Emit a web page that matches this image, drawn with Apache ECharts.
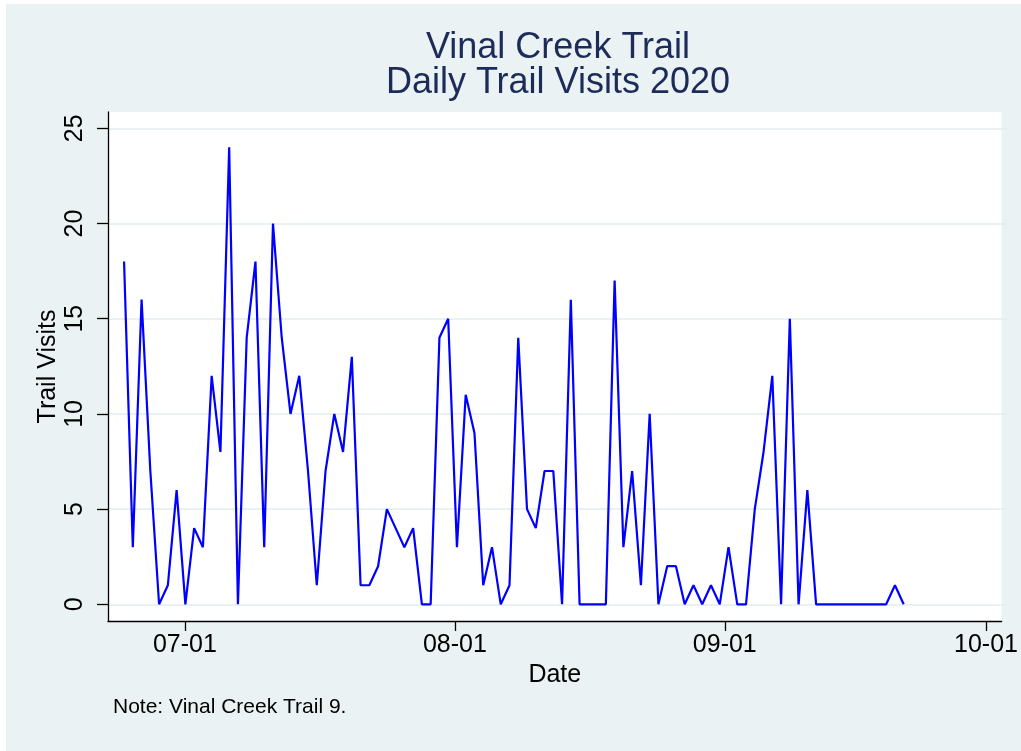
<!DOCTYPE html>
<html><head><meta charset="utf-8">
<script src="https://cdn.jsdelivr.net/npm/echarts@6/dist/echarts.min.js"></script>
<style>html,body{margin:0;padding:0;background:#fff}#c{width:1021px;height:751px}</style>
</head><body><div id="c"></div>
<script>
// ---- data ----
const dates = [
  '2020-06-24','2020-06-25','2020-06-26','2020-06-27','2020-06-28','2020-06-29','2020-06-30',
  '2020-07-01','2020-07-02','2020-07-03','2020-07-04','2020-07-05','2020-07-06','2020-07-07','2020-07-08',
  '2020-07-09','2020-07-10','2020-07-11','2020-07-12','2020-07-13','2020-07-14','2020-07-15','2020-07-16',
  '2020-07-17','2020-07-18','2020-07-19','2020-07-20','2020-07-21','2020-07-22','2020-07-23','2020-07-24',
  '2020-07-25','2020-07-26','2020-07-27','2020-07-28','2020-07-29','2020-07-30','2020-07-31',
  '2020-08-01','2020-08-02','2020-08-03','2020-08-04','2020-08-05','2020-08-06','2020-08-07','2020-08-08',
  '2020-08-09','2020-08-10','2020-08-11','2020-08-12','2020-08-13','2020-08-14','2020-08-15','2020-08-16',
  '2020-08-17','2020-08-18','2020-08-19','2020-08-20','2020-08-21','2020-08-22','2020-08-23','2020-08-24',
  '2020-08-25','2020-08-26','2020-08-27','2020-08-28','2020-08-29','2020-08-30','2020-08-31',
  '2020-09-01','2020-09-02','2020-09-03','2020-09-04','2020-09-05','2020-09-06','2020-09-07','2020-09-08',
  '2020-09-09','2020-09-10','2020-09-11','2020-09-12','2020-09-13','2020-09-14','2020-09-15','2020-09-16',
  '2020-09-17','2020-09-18','2020-09-19','2020-09-20','2020-09-21'
];
const visits = [
  18,3,16,7,0,1,6,
  0,4,3,12,8,24,0,14,18,3,20,14,10,12,7,1,7,10,8,13,1,1,2,5,4,3,4,0,0,14,15,
  3,11,9,1,3,0,1,14,5,4,7,7,0,16,0,0,0,0,17,3,7,1,10,0,2,2,0,1,0,1,0,
  3,0,0,5,8,12,0,15,0,6,0,0,0,0,0,0,0,0,0,1,0
];
const xTickDates = ['2020-07-01','2020-08-01','2020-09-01','2020-10-01'];
const yTicks = [0,5,10,15,20,25];
const xRange = ['2020-06-22T04','2020-10-02T19'];
const titleLines = ['Vinal Creek Trail','Daily Trail Visits 2020'];
const noteText = 'Note: Vinal Creek Trail 9.';

// ---- helpers ----
function ts(s){const parts=s.split('T');const p=parts[0].split('-').map(Number);const h=parts[1]?Number(parts[1]):0;return Date.UTC(p[0],p[1]-1,p[2],h);}
function fmt(v){const d=new Date(v);return String(d.getUTCMonth()+1).padStart(2,'0')+'-'+String(d.getUTCDate()).padStart(2,'0');}
const FONT='"Liberation Sans", Arial, sans-serif';
const xTickVals = xTickDates.map(ts);
const seriesData = dates.map((d,i)=>[ts(d),visits[i]]);
const axisCol='#000';

const chart = echarts.init(document.getElementById('c'), null, {renderer:'canvas'});
chart.setOption({
  animation:false,
  backgroundColor:'#fff',
  textStyle:{fontFamily:FONT},
  graphic:[
    {type:'rect',z:-100,silent:true,shape:{x:6,y:4,width:1015,height:747},style:{fill:'#EAF2F3'}},
    {type:'text',x:558,y:48,style:{text:titleLines[0],fontSize:36,fontFamily:FONT,fill:'#1c2b57',align:'center',verticalAlign:'middle',textAlign:'center',textVerticalAlign:'middle'}},
    {type:'text',x:558,y:83,style:{text:titleLines[1],fontSize:36,fontFamily:FONT,fill:'#1c2b57',align:'center',verticalAlign:'middle',textAlign:'center',textVerticalAlign:'middle'}},
    {type:'text',x:113,y:707,style:{text:noteText,fontSize:21,fontFamily:FONT,fill:'#000',verticalAlign:'middle',textVerticalAlign:'middle'}}
  ],
  grid:[
    {left:108,top:112,width:899,height:509,show:true,backgroundColor:'#fff',borderWidth:0},
    {left:108,top:128.3,width:899,height:476,show:false}
  ],
  xAxis:[
    {gridIndex:0,type:'value',min:ts(xRange[0]),max:ts(xRange[1]),
     axisLine:{show:true,onZero:false,lineStyle:{color:axisCol,width:1.3}},
     axisTick:{show:true,customValues:xTickVals,length:10,lineStyle:{color:axisCol,width:1.3}},
     axisLabel:{show:true,customValues:xTickVals,formatter:fmt,fontSize:25,color:'#000',margin:12,fontFamily:FONT,hideOverlap:false,showMinLabel:true,showMaxLabel:true},
     splitLine:{show:false},
     name:'Date',nameLocation:'middle',nameGap:38,nameTextStyle:{fontSize:25,color:'#000',fontFamily:FONT}},
    {gridIndex:1,type:'value',min:ts(xRange[0]),max:ts(xRange[1]),show:false}
  ],
  yAxis:[
    {gridIndex:0,type:'value',min:0,max:1,
     axisLine:{show:true,onZero:false,lineStyle:{color:axisCol,width:1.3}},
     axisTick:{show:false},axisLabel:{show:false},splitLine:{show:false},
     name:'Trail Visits',nameLocation:'middle',nameRotate:90,nameGap:47,nameTextStyle:{fontSize:25,color:'#000',fontFamily:FONT}},
    {gridIndex:1,type:'value',min:yTicks[0],max:yTicks[yTicks.length-1],interval:yTicks[1]-yTicks[0],
     axisLine:{show:false},
     axisTick:{show:true,length:11,lineStyle:{color:axisCol,width:1.3}},
     axisLabel:{show:true,rotate:90,fontSize:25,color:'#000',margin:20,fontFamily:FONT},
     splitLine:{show:true,lineStyle:{color:'#E2ECEF',width:1.6}}}
  ],
  series:[{
    type:'line',xAxisIndex:1,yAxisIndex:1,data:seriesData,
    showSymbol:false,symbol:'none',clip:false,
    lineStyle:{color:'#0000FF',width:2.2},
    itemStyle:{color:'#0000FF'}
  }]
});
</script>
</body></html>
